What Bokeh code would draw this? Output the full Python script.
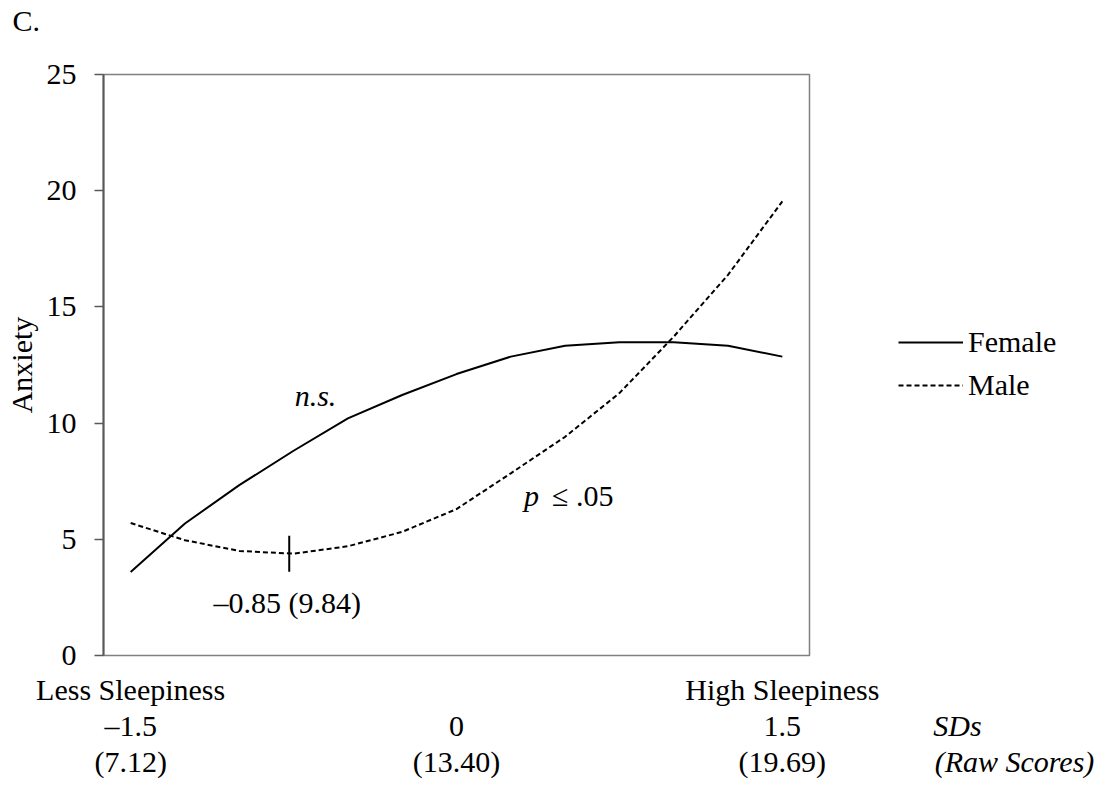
from bokeh.plotting import figure
from bokeh.models import Range1d, FixedTicker, LinearAxis, Legend, LegendItem
from bokeh.layouts import row, column
from bokeh.core.properties import value
from bokeh.embed import file_html
from bokeh.resources import INLINE

# ---- data ----
sd_points = [-1.5, -1.25, -1.0, -0.75, -0.5, -0.25, 0.0, 0.25, 0.5, 0.75, 1.0, 1.25, 1.5]
female = [3.59, 5.68, 7.33, 8.81, 10.20, 11.21, 12.11, 12.86, 13.33, 13.48, 13.48, 13.33, 12.86]
male = [5.70, 4.96, 4.50, 4.38, 4.70, 5.32, 6.30, 7.84, 9.41, 11.29, 13.72, 16.38, 19.54]

sd_ticks = [-1.5, 0.0, 1.5]
anchor_labels = ["Less Sleepiness", "", "High Sleepiness"]
sd_labels = ["\u20131.5", "0", "1.5"]
raw_labels = ["(7.12)", "(13.40)", "(19.69)"]
unit_labels = ["SDs", "(Raw Scores)"]
y_ticks = [0, 5, 10, 15, 20, 25]

min_x = -0.77          # position of the male minimum marker as drawn
min_marker_y = [3.6, 5.15]
min_label = "\u20130.85 (9.84)"
panel_label = "C."

FONT = "Liberation Serif"
FS = "30px"
GREY = "#595959"
TOP_H = 40
H = 745
MAIN_W = 885
SIDE_W = 215
AXIS_STANDOFFS = [17, 0, 0]

# ---- header strip with the panel letter (pixel coordinates, y downward) ----
hdr = figure(width=MAIN_W + SIDE_W, height=TOP_H, output_backend="svg",
             toolbar_location=None, x_range=Range1d(0, MAIN_W + SIDE_W),
             y_range=Range1d(TOP_H, 0), x_axis_location=None, y_axis_location=None,
             min_border=0, outline_line_color=None)
hdr.xgrid.visible = False
hdr.ygrid.visible = False
hdr.text(x=[12], y=[20], text=[panel_label], text_font=value(FONT), text_font_size=FS,
         text_align="left", text_baseline="middle", text_color="black")

# ---- main plot ----
p = figure(width=MAIN_W, height=H, output_backend="svg", toolbar_location=None,
           x_range=Range1d(-1.625, 1.625), y_range=Range1d(0, 25),
           x_axis_location=None,
           min_border_left=103, min_border_top=74 - TOP_H, min_border_right=MAIN_W - 809,
           min_border_bottom=130)
p.xgrid.visible = False
p.ygrid.visible = False
p.outline_line_color = "#808080"
p.outline_line_width = 1.5
p.background_fill_color = "white"
p.border_fill_color = "white"

# y axis
ya = p.yaxis[0]
ya.ticker = FixedTicker(ticks=y_ticks)
ya.major_tick_out = 9
ya.major_tick_in = 0
ya.minor_tick_out = 0
ya.minor_tick_in = 0
ya.major_label_standoff = 18
ya.axis_line_color = GREY
ya.axis_line_width = 2
ya.major_tick_line_color = GREY
ya.major_tick_line_width = 1.5
ya.major_label_text_font = FONT
ya.major_label_text_font_size = FS
ya.major_label_text_color = "black"
ya.axis_label = "Anxiety"
ya.axis_label_text_font = FONT
ya.axis_label_text_font_size = FS
ya.axis_label_text_font_style = "normal"
ya.axis_label_text_color = "black"
ya.axis_label_standoff = 6


def make_axis(ticks, labels, standoff, italic=False):
    ax = LinearAxis(ticker=FixedTicker(ticks=ticks),
                    major_label_overrides={t: l for t, l in zip(ticks, labels)})
    ax.axis_line_color = None
    ax.major_tick_line_color = None
    ax.minor_tick_line_color = None
    ax.major_tick_out = 0
    ax.major_tick_in = 0
    ax.major_label_standoff = standoff
    ax.major_label_text_font = FONT
    ax.major_label_text_font_size = FS
    ax.major_label_text_font_style = "italic" if italic else "normal"
    ax.major_label_text_color = "black"
    return ax


for labels, so in zip([anchor_labels, sd_labels, raw_labels], AXIS_STANDOFFS):
    p.add_layout(make_axis(sd_ticks, labels, so), "below")

# lines
p.line(sd_points, female, line_color="black", line_width=2)
p.line(sd_points, male, line_color="black", line_width=2, line_dash="5 3")

# minimum marker
p.segment(x0=[min_x], y0=[min_marker_y[0]], x1=[min_x], y1=[min_marker_y[1]],
          line_color="black", line_width=2)

# annotations in the plot
p.text(x=[-0.779], y=[2.29], text=[min_label], text_font=value(FONT),
       text_font_size=FS, text_align="center", text_baseline="middle", text_color="black")
p.text(x=[-0.649], y=[11.19], text=["n.s."], text_font=value(FONT),
       text_font_size=FS, text_font_style="italic", text_align="center",
       text_baseline="middle", text_color="black")
p.text(x=[0.345], y=[6.88], text=["p"], text_font=value(FONT),
       text_font_size=FS, text_font_style="italic", text_align="center",
       text_baseline="middle", text_color="black")
p.text(x=[0.44], y=[6.88], text=["\u2264 .05"], text_font=value(FONT),
       text_font_size=FS, text_align="left",
       text_baseline="middle", text_color="black")

# ---- side panel: legend and row captions ----
# x in panel pixels; y range chosen so the series lines (kept for the legend) fall outside it
s = figure(width=SIDE_W, height=H, output_backend="svg", toolbar_location=None,
           x_range=Range1d(0, SIDE_W), y_range=Range1d(100, 125),
           x_axis_location=None, y_axis_location=None,
           min_border_left=0, min_border_right=0, min_border_top=74 - TOP_H,
           min_border_bottom=130, outline_line_color=None)
s.xgrid.visible = False
s.ygrid.visible = False

lf = s.line(sd_points, female, line_color="black", line_width=2)
lm = s.line(sd_points, male, line_color="black", line_width=2, line_dash="5 3")
legend = Legend(items=[LegendItem(label="Female", renderers=[lf]),
                       LegendItem(label="Male", renderers=[lm])],
                location=(13, 655 - 325 - 77), margin=0, padding=0, spacing=9,
                glyph_width=65, glyph_height=34, label_height=34, label_standoff=5,
                label_text_font=FONT, label_text_font_size=FS, label_text_color="black",
                border_line_color=None, background_fill_alpha=0)
s.add_layout(legend)

unit_ticks = [72, 129]
s.add_layout(make_axis([72], ["\u00a0"], AXIS_STANDOFFS[0]), "below")
s.add_layout(make_axis([unit_ticks[0]], [unit_labels[0]], AXIS_STANDOFFS[1], italic=True), "below")
s.add_layout(make_axis([unit_ticks[1]], [unit_labels[1]], AXIS_STANDOFFS[2], italic=True), "below")

layout = column(hdr, row(p, s, spacing=0), spacing=0)
open("out.html", "w").write(file_html(layout, INLINE))
